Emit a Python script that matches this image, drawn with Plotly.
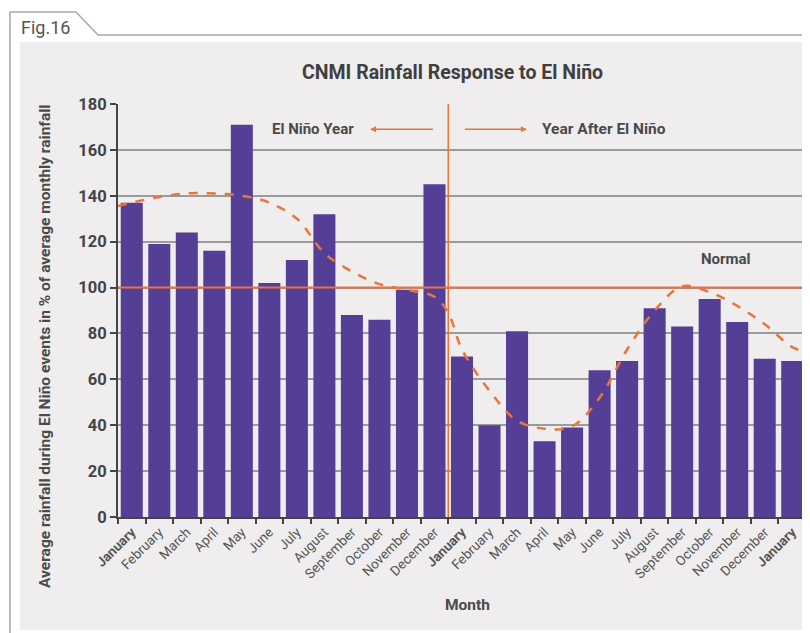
import plotly.graph_objects as go

# --- data ---
months = ["January", "February", "March", "April", "May", "June", "July",
          "August", "September", "October", "November", "December",
          "January", "February", "March", "April", "May", "June", "July",
          "August", "September", "October", "November", "December", "January"]
rainfall = [137, 119, 124, 116, 171, 102, 112, 132, 88, 86, 99, 145,
            70, 40, 81, 33, 39, 64, 68, 91, 83, 95, 85, 69, 68]
# smooth trend (dashed), sampled at the plot edges and each month
trend_pos = [-0.5, 0, 1, 2, 3, 4, 5, 6, 7, 8, 9, 10, 11, 11.5, 12, 13, 14, 15,
             16, 17, 18, 19, 20, 21, 22, 23, 24, 24.5]
trend_val = [135.5, 137, 139.5, 141, 141, 140, 137, 130, 115, 107, 101.5, 99, 96,
             89, 73, 55, 42, 38.5, 39.5, 52, 73, 90, 100.5, 98, 92, 84, 74, 72]
normal_level = 100
split_pos = 11.5

# --- page geometry (pixels in the 810x633 window; page body has an 8px margin) ---
OFF = 8
W, H = 810 - OFF, 633 - OFF
PLOT_L, PLOT_R, PLOT_T, PLOT_B = 118, 806, 104, 517
L, T = PLOT_L - OFF, PLOT_T - OFF
R, B = W - (PLOT_R - OFF), H - (PLOT_B - OFF)
PW, PH = PLOT_R - PLOT_L, PLOT_B - PLOT_T


def px(x):
    return (x - PLOT_L) / PW


def py(y):
    return (PLOT_B - y) / PH


ORANGE = "#e8753a"
GRAY_TXT = "#4a4a4a"
FONT = "Roboto"

tick_text = [f"<b>{m}</b>" if m == "January" else m for m in months]
xs = list(range(len(months)))

fig = go.Figure()
fig.add_trace(go.Bar(x=xs, y=rainfall, marker=dict(color="#553e96", line=dict(width=0)),
                     hoverinfo="y"))
fig.add_trace(go.Scatter(x=trend_pos, y=trend_val, mode="lines",
                         line=dict(color=ORANGE, width=2.5, dash="dash", shape="spline"),
                         hoverinfo="skip"))
# invisible trace on second axis for the boundary ticks
fig.add_trace(go.Scatter(x=[-0.5, len(months) - 0.5], y=[0, 0], xaxis="x2",
                         mode="markers", marker=dict(opacity=0), hoverinfo="skip"))

fig.update_layout(
    width=W, height=H,
    margin=dict(l=L, r=R, t=T, b=B),
    paper_bgcolor="white",
    plot_bgcolor="rgba(255,255,255,0.6)",
    showlegend=False,
    bargap=0.2,
    font=dict(family=FONT, color=GRAY_TXT),
    xaxis=dict(range=[-0.5, len(months) - 0.5], tickvals=xs, ticktext=tick_text,
               tickangle=-45, tickfont=dict(size=13.5, color="#555"), ticks="",
               showgrid=False, zeroline=False, showline=True, linecolor="#444",
               linewidth=2),
    xaxis2=dict(range=[-0.5, len(months) - 0.5], overlaying="x", anchor="y",
                side="bottom", tickvals=[i - 0.5 for i in range(len(months) + 1)],
                ticks="outside", ticklen=6, tickwidth=2, tickcolor="#444",
                showticklabels=False, showgrid=False, zeroline=False),
    yaxis=dict(range=[0, 180], dtick=20, ticks="outside", ticklen=6, tickwidth=2,
               tickcolor="#444", tickfont=dict(size=16.5, color="#444", family=FONT),
               showgrid=True, gridcolor="#9b9b9b", gridwidth=1.5, zeroline=False,
               showline=True, linecolor="#444", linewidth=2),
)
fig.update_yaxes(tickprefix="<b>", ticksuffix="</b>")

shapes = [
    # panel background
    dict(type="rect", xref="paper", yref="paper", x0=px(20), x1=px(812),
         y0=py(630), y1=py(42), fillcolor="#efeded", line=dict(width=0), layer="below"),
    # tab outline
    dict(type="path", xref="paper", yref="paper",
         path=f"M {px(10)},{py(640)} L {px(10)},{py(12)} L {px(76)},{py(12)} "
              f"L {px(98)},{py(35)} L {px(812)},{py(35)}",
         line=dict(color="#a8a8a8", width=1.5), layer="below"),
    # normal line
    dict(type="line", xref="paper", yref="y", x0=0, x1=1, y0=normal_level,
         y1=normal_level, line=dict(color=ORANGE, width=2), layer="above"),
    # split line
    dict(type="line", xref="x", yref="paper", x0=split_pos, x1=split_pos, y0=0, y1=1,
         line=dict(color=ORANGE, width=1.5), layer="above"),
]
fig.update_layout(shapes=shapes)

ann = [
    dict(text="Fig.16", x=px(19), y=py(27), xref="paper", yref="paper", xanchor="left",
         yanchor="middle", showarrow=False, font=dict(size=18, color="#555")),
    dict(text="<b>CNMI Rainfall Response to El Niño</b>", x=px(452), y=py(72),
         xref="paper", yref="paper", xanchor="center", yanchor="middle",
         showarrow=False, font=dict(size=19.5, color="#3f3f3f")),
    dict(text="<b>Average rainfall during El Niño events in % of average monthly rainfall</b>",
         x=px(45), y=py(347), xref="paper", yref="paper", xanchor="center",
         yanchor="middle", textangle=-90, showarrow=False,
         font=dict(size=15.5, color=GRAY_TXT)),
    dict(text="<b>Month</b>", x=px(467), y=py(605), xref="paper", yref="paper",
         xanchor="center", yanchor="middle", showarrow=False,
         font=dict(size=15.5, color=GRAY_TXT)),
    dict(text="<b>El Niño Year</b>", x=6.6, y=169, showarrow=False,
         font=dict(size=15, color=GRAY_TXT)),
    dict(text="<b>Year After El Niño</b>", x=17.15, y=169, showarrow=False,
         font=dict(size=15.5, color=GRAY_TXT)),
    dict(text="<b>Normal</b>", x=21.6, y=112.5, showarrow=False,
         font=dict(size=15, color=GRAY_TXT)),
    dict(x=8.66, y=169, ax=11.0, ay=169, axref="x", ayref="y", text="", showarrow=True,
         arrowhead=2, arrowsize=0.8, arrowwidth=1.5, arrowcolor=ORANGE),
    dict(x=14.36, y=169, ax=12.05, ay=169, axref="x", ayref="y", text="", showarrow=True,
         arrowhead=2, arrowsize=0.8, arrowwidth=1.5, arrowcolor=ORANGE),
]
fig.update_layout(annotations=ann)

fig.write_html("out.html")
